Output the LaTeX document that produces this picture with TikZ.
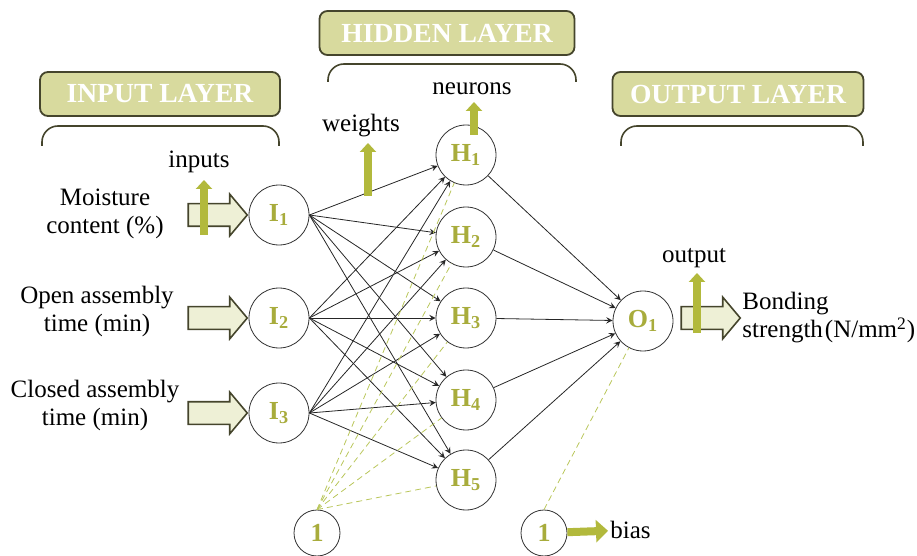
\documentclass[tikz,border=0pt]{standalone}
\usepackage{fontspec}
\setmainfont{Liberation Serif}
\usetikzlibrary{arrows.meta,shapes.arrows,positioning}
\definecolor{olivetext}{HTML}{A8AC3C}
\definecolor{olivebar}{HTML}{B2B93C}
\definecolor{boxfill}{HTML}{D8DA9E}
\definecolor{boxline}{HTML}{45452C}
\definecolor{arrowfill}{HTML}{EEF0D6}
\definecolor{biasdash}{HTML}{B9C65A}

\begin{document}
\begin{tikzpicture}[x=0.5pt,y=-0.5pt,>=stealth,font=\fontsize{12.5}{14}\selectfont]
\tikzstyle{neuron}=[circle,draw=black!80,fill=white,thin,minimum size=30pt,inner sep=0pt,text=olivetext,font=\fontsize{13}{13}\selectfont\bfseries]
\tikzstyle{biasnode}=[neuron,minimum size=23pt]
\tikzstyle{layer}=[draw=boxline,fill=boxfill,line width=0.9pt,rounded corners=4pt,minimum height=22pt,text=white,font=\fontsize{13.8}{13.8}\selectfont\bfseries]
\tikzstyle{brace}=[draw=boxline,line width=0.8pt,rounded corners=8pt]
\tikzstyle{blockarrow}=[single arrow,draw=boxline,fill=arrowfill,line width=0.8pt,inner xsep=0pt,inner ysep=5.25pt,minimum height=29.5pt,single arrow head extend=4.75pt,single arrow tip angle=100]
\tikzstyle{wire}=[->,thin,black!85]
\tikzstyle{biaswire}=[densely dashed,thin,biasdash]
\tikzstyle{pointer}=[draw=olivebar,line width=3.8pt,-{Triangle[length=4.5pt,width=8pt]}]
\useasboundingbox (0,0) rectangle (917,556);

% layer headings
\node[layer,minimum width=120pt] (inbox) at (160,94) {INPUT LAYER};
\node[layer,minimum width=127.5pt] (hidbox) at (447,33) {HIDDEN LAYER};
\node[layer,minimum width=125.5pt] (outbox) at (738,94) {OUTPUT LAYER};
\draw[brace] (42,146) -- (42,126) -- (279,126) -- (279,146);
\draw[brace] (328,82) -- (328,64) -- (576,64) -- (576,82);
\draw[brace] (621,146) -- (621,126) -- (863,126) -- (863,146);

% neurons
\node[neuron] (I1) at (279,215) {I\textsubscript{1}};
\node[neuron] (I2) at (279,318) {I\textsubscript{2}};
\node[neuron] (I3) at (279,413) {I\textsubscript{3}};
\foreach \j/\y in {1/155,2/237,3/318,4/400,5/480}
  \node[neuron] (H\j) at (466,\y) {H\textsubscript{\j}};
\node[neuron] (O1) at (643,321) {O\textsubscript{1}};
\node[biasnode] (b1) at (317,533) {1};
\node[biasnode] (b2) at (544,533) {1};

% connections
\foreach \i in {1,2,3}
  \foreach \j in {1,...,5}
    \draw[wire] (I\i.east) -- (H\j);
\foreach \j in {1,...,5}
  \draw[wire] (H\j) -- (O1);
\foreach \j in {1,...,5}
  \draw[biaswire] (b1.north) -- (H\j);
\draw[biaswire] (b2.north) -- (O1);

% inputs and output
\node[align=center] (m1) at (105,214) {Moisture\\content (\%)};
\node[align=center] (m2) at (97,311) {Open assembly\\time (min)};
\node[align=center] (m3) at (95,405) {Closed assembly\\time (min)};
\node[blockarrow] (a1) at (213,215) {};
\node[blockarrow] (a2) at (213,318) {};
\node[blockarrow] (a3) at (213,413) {};
\node[blockarrow] (a4) at (706,318) {};
\node[align=left,anchor=west,inner sep=1pt] (res) at (740,318) {Bonding\\strength\kern1pt(N/mm\textsuperscript{2})};

% annotations
\coordinate (p1) at (204,235);
\coordinate (q1) at (204,180);
\coordinate (p2) at (368,196);
\coordinate (q2) at (368,143);
\coordinate (p3) at (474,135);
\coordinate (q3) at (474,102);
\coordinate (p4) at (697,333);
\coordinate (q4) at (697,273);
\draw[pointer] (p1) -- (q1);
\draw[pointer] (p2) -- (q2);
\draw[pointer] (p3) -- (q3);
\draw[pointer] (p4) -- (q4);
\node (t1) at (199,162) {inputs};
\node (t2) at (361,126) {weights};
\node (t3) at (472,89) {neurons};
\node (t4) at (694,258) {output};
\node[anchor=west,inner sep=1pt] (t5) at (608,530) {bias};
\draw[pointer,line width=4pt,-{Triangle[length=6pt,width=11pt]}] (b2) -- (t5);
\end{tikzpicture}
\end{document}
